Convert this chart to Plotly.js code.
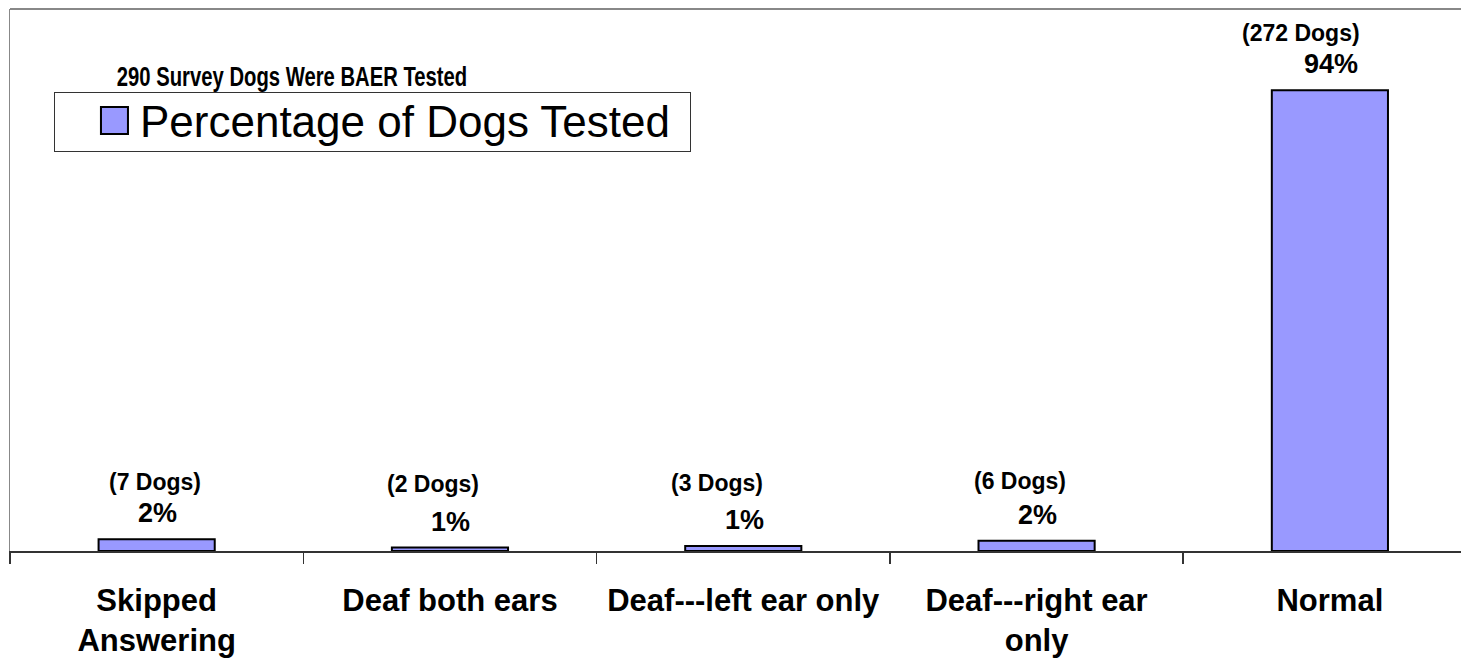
<!DOCTYPE html>
<html>
<head>
<meta charset="utf-8">
<script src="https://cdn.plot.ly/plotly-3.0.1.min.js"></script>
<style>
html,body{margin:0;padding:0;background:#fff;}
#chart{width:1461px;height:661px;}
</style>
</head>
<body>
<div id="chart"></div>
<script>
// ---- data ----
var categories = ["Skipped<br>Answering", "Deaf both ears", "Deaf---left ear only", "Deaf---right ear<br>only", "Normal"];
var dogCounts = [7, 2, 3, 6, 272];
var totalDogs = 290;
var percentValues = [2.41, 0.69, 1.03, 2.07, 93.79];
var percentLabels = ["2%", "1%", "1%", "2%", "94%"];
var seriesName = "Percentage of Dogs Tested";
var chartTitle = "290 Survey Dogs Were BAER Tested";

// ---- label offsets (layout only) ----
var countLabelXShift = [-2, -17, -26, -17, -29];
var countLabelYShift = [42, 49, 48, 45, 42];

var FONT = "Liberation Sans, Arial, sans-serif";

var trace = {
  type: "bar",
  x: categories,
  y: percentValues,
  name: seriesName,
  width: 0.396,
  marker: {color: "#9999FF", line: {color: "#000000", width: 2}},
  hoverinfo: "skip",
  showlegend: true
};

var annotations = [];
for (var i = 0; i < categories.length; i++) {
  annotations.push({
    x: categories[i], y: percentValues[i], xref: "x", yref: "y",
    text: "(" + dogCounts[i] + " Dogs)", showarrow: false,
    xanchor: "center", yanchor: "bottom",
    yshift: countLabelYShift[i], xshift: countLabelXShift[i],
    font: {family: FONT, size: 23, color: "#000", weight: "bold"}
  });
  annotations.push({
    x: categories[i], y: percentValues[i], xref: "x", yref: "y",
    text: percentLabels[i], showarrow: false,
    xanchor: "center", yanchor: "bottom", yshift: 9, xshift: 1,
    font: {family: FONT, size: 27, color: "#000", weight: "bold"}
  });
}

var TITLE_X = 292;
var layout = {
  width: 1461, height: 661,
  margin: {l: 10, r: 0, t: 9, b: 110, pad: 0},
  paper_bgcolor: "#fff", plot_bgcolor: "#fff",
  title: {
    text: chartTitle, xref: "container", x: TITLE_X / 1461, xanchor: "center",
    yref: "container", y: 0.884, yanchor: "middle",
    font: {family: FONT, size: 27, color: "#000", weight: "bold"}
  },
  xaxis: {
    type: "category",
    range: [-0.5, 4.447],
    tickson: "boundaries",
    ticks: "outside", ticklen: 11, tickwidth: 1.5, tickcolor: "#333",
    showline: true, linecolor: "#333", linewidth: 1.5,
    showgrid: false, zeroline: false,
    tickfont: {family: FONT, size: 31, color: "#000", weight: "bold"},
    ticklabelstandoff: 21,
    fixedrange: true
  },
  yaxis: {
    range: [0, 110.3],
    showticklabels: false, ticks: "",
    showgrid: false, zeroline: false,
    showline: true, linecolor: "#888", linewidth: 1.5,
    fixedrange: true
  },
  shapes: [{
    type: "line", xref: "paper", yref: "paper", x0: 0, x1: 1, y0: 1, y1: 1,
    line: {color: "#888", width: 2}
  }],
  showlegend: true,
  legend: {
    x: 0.0303, y: 0.8469, xanchor: "left", yanchor: "top",
    bgcolor: "#fff", bordercolor: "#333", borderwidth: 1,
    font: {family: FONT, size: 44, color: "#000"},
    itemwidth: 75
  },
  annotations: annotations
};

function parseTranslate(str) {
  var m = /translate\(\s*([-\d.eE]+)[ ,]*([-\d.eE]*)\s*\)/.exec(str || "");
  if (!m) return [0, 0];
  return [parseFloat(m[1]) || 0, parseFloat(m[2]) || 0];
}

Plotly.newPlot("chart", [trace], layout, {displayModeBar: false, staticPlot: true}).then(function () {
  // condensed title look
  var t = document.querySelector(".gtitle");
  if (t) {
    var s = 0.75;
    t.setAttribute("transform", "translate(" + TITLE_X + ",0) scale(" + s + ",1) translate(" + (-TITLE_X) + ",0)");
  }
  // legend box sized like the original
  var leg = document.querySelector("g.legend");
  if (leg) {
    var bg = leg.querySelector("rect.bg");
    var oldH = parseFloat(bg.getAttribute("height"));
    var H = 59, W = 636;
    bg.setAttribute("height", H);
    bg.setAttribute("width", W);
    var dy = (H - oldH) / 2 - 2;
    leg.querySelectorAll("g.traces").forEach(function (g) {
      var tr = parseTranslate(g.getAttribute("transform"));
      g.setAttribute("transform", "translate(" + tr[0] + "," + (tr[1] + dy) + ")");
    });
    document.querySelectorAll("clipPath rect").forEach(function (r) {
      var pid = r.parentNode.getAttribute("id") || "";
      if (pid.indexOf("legend") === 0) {
        r.setAttribute("y", -30);
        r.setAttribute("height", H + 60);
        r.setAttribute("width", W + 20);
      }
    });
    leg.querySelectorAll(".legendpoints path").forEach(function (p) {
      var tr = parseTranslate(p.getAttribute("transform"));
      p.setAttribute("transform", "translate(" + (tr[0] + 17) + "," + (tr[1] + 1) + ") scale(2.25)");
      p.style.strokeWidth = "0.9px";
    });
  }
});
</script>
</body>
</html>
